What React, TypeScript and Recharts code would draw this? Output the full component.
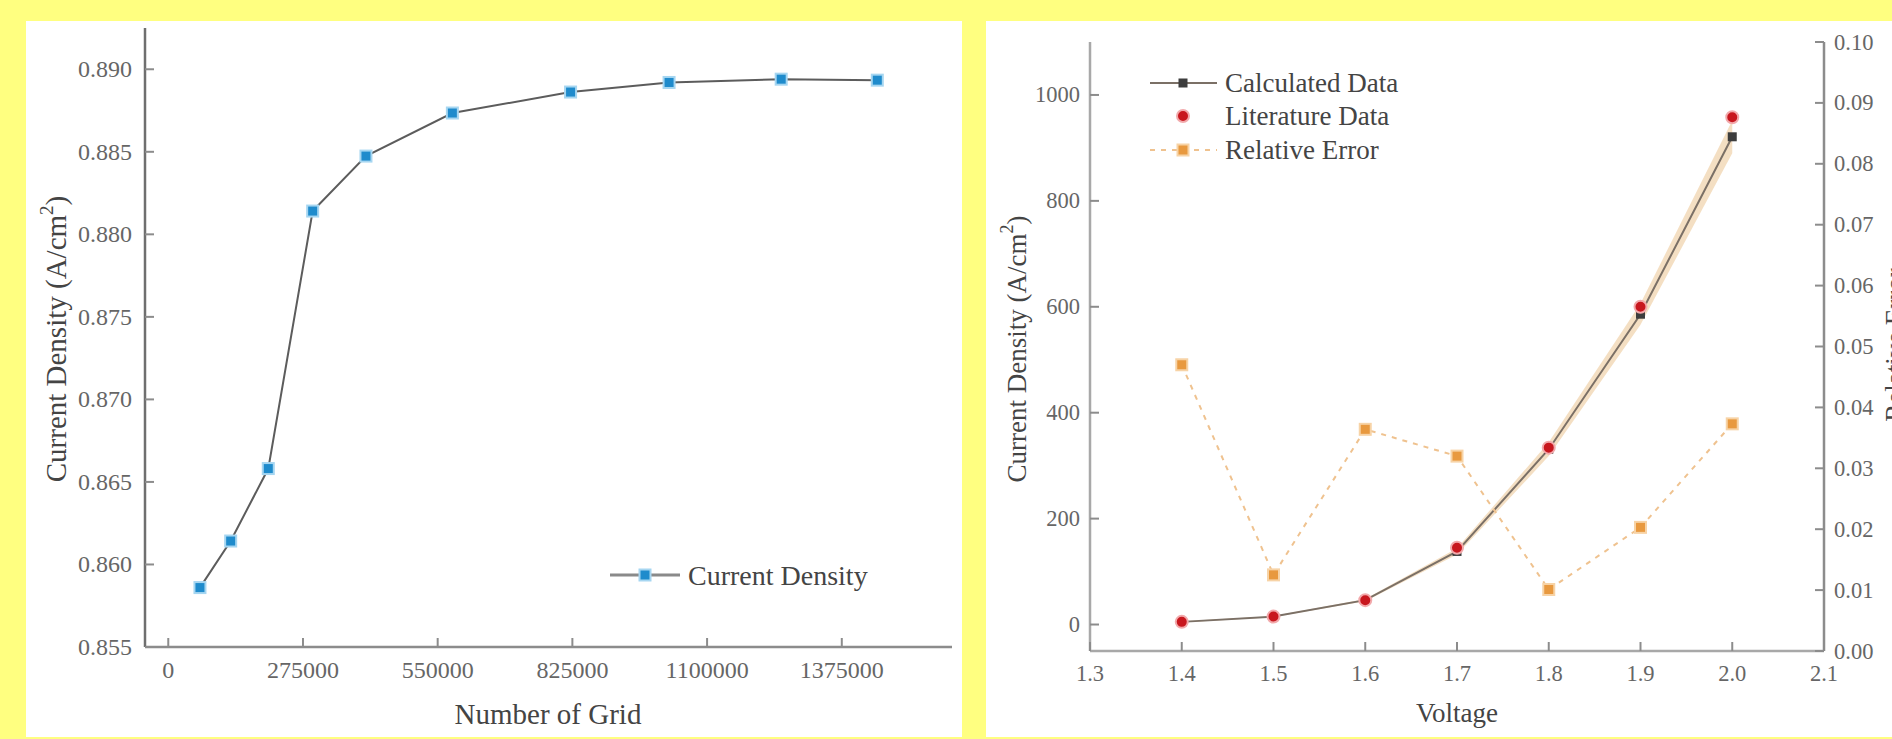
import { LineChart, Line, ComposedChart, Area, XAxis, YAxis } from "recharts";

// grid independence study (left)
const GRID_CELLS = [64700, 127400, 204200, 294800, 403600, 580000, 821300, 1022400, 1251300, 1447500];
const GRID_DENSITY = [0.8586, 0.86142, 0.86581, 0.88141, 0.88474, 0.88735, 0.88862, 0.8892, 0.8894, 0.88934];
const GRID_TICKS = [0, 275000, 550000, 825000, 1100000, 1375000];
const DENSITY_TICKS = [0.855, 0.86, 0.865, 0.87, 0.875, 0.88, 0.885, 0.89];

// validation against literature (right)
const VOLTAGE = [1.4, 1.5, 1.6, 1.7, 1.8, 1.9, 2.0];
const CALCULATED = [5, 15, 46, 138, 331, 586, 921];
const LITERATURE = [5, 15, 46, 145, 334, 600, 958];
const BAND_LOW = [4, 14, 44, 132, 318, 566, 890];
const BAND_HIGH = [6, 16, 48, 144, 344, 606, 952];
const REL_ERROR = [0.047, 0.0125, 0.0364, 0.032, 0.0101, 0.0203, 0.0373];
const VOLTAGE_TICKS = [1.3, 1.4, 1.5, 1.6, 1.7, 1.8, 1.9, 2.0, 2.1];
const CD_TICKS = [0, 200, 400, 600, 800, 1000];
const ERR_TICKS = [0, 0.01, 0.02, 0.03, 0.04, 0.05, 0.06, 0.07, 0.08, 0.09, 0.1];

const FONT = "'Liberation Serif', 'Times New Roman', serif";
const AXIS = "#8c8c8c";
const TICK_TEXT = "#666";
const TITLE_TEXT = "#444";
const TICK_LEN = 9;

const gridData = GRID_CELLS.map((g, i) => ({ grid: g, density: GRID_DENSITY[i] }));
const voltData = VOLTAGE.map((v, i) => ({
  v,
  calc: CALCULATED[i],
  lit: LITERATURE[i],
  err: REL_ERROR[i],
  band: [BAND_LOW[i], BAND_HIGH[i]],
}));

function bottomTick(fmt: (v: number) => string, fs: number, gap: number) {
  return (p: any) => (
    <g>
      <line x1={p.x} x2={p.x} y1={p.y} y2={p.y - TICK_LEN} stroke={AXIS} strokeWidth={2} />
      <text x={p.x} y={p.y + gap} textAnchor="middle" dominantBaseline="central" fontSize={fs} fontFamily={FONT} fill={TICK_TEXT}>
        {fmt(p.payload.value)}
      </text>
    </g>
  );
}

function leftTick(fmt: (v: number) => string, fs: number, gap: number) {
  return (p: any) => (
    <g>
      <line x1={p.x} x2={p.x + TICK_LEN} y1={p.y} y2={p.y} stroke={AXIS} strokeWidth={2} />
      <text x={p.x - gap} y={p.y} textAnchor="end" dominantBaseline="central" fontSize={fs} fontFamily={FONT} fill={TICK_TEXT}>
        {fmt(p.payload.value)}
      </text>
    </g>
  );
}

function rightTick(fmt: (v: number) => string, fs: number, gap: number) {
  return (p: any) => (
    <g>
      <line x1={p.x} x2={p.x - TICK_LEN} y1={p.y} y2={p.y} stroke={AXIS} strokeWidth={2} />
      <text x={p.x + gap} y={p.y} textAnchor="start" dominantBaseline="central" fontSize={fs} fontFamily={FONT} fill={TICK_TEXT}>
        {fmt(p.payload.value)}
      </text>
    </g>
  );
}

const square = (size: number, fill: string, halo?: string) => (p: any) => {
  if (p.cx == null || p.cy == null) return <g key={p.index} />;
  return (
    <rect key={p.index} x={p.cx - size / 2} y={p.cy - size / 2} width={size} height={size}
      fill={fill} stroke={halo ?? "none"} strokeWidth={halo ? 2 : 0} />
  );
};

const circle = (r: number, fill: string, halo: string) => (p: any) => {
  if (p.cx == null || p.cy == null) return <g key={p.index} />;
  return <circle key={p.index} cx={p.cx} cy={p.cy} r={r} fill={fill} stroke={halo} strokeWidth={2} />;
};

function GridChart() {
  return (
    <div style={{ position: "absolute", left: 26, top: 21, width: 936, height: 716, background: "#fff" }}>
      <LineChart width={936} height={716} data={gridData} margin={{ top: 7, right: 10, bottom: 30, left: 39 }}>
        <XAxis type="number" dataKey="grid" domain={[-47500, 1600000]} ticks={GRID_TICKS} allowDataOverflow
          height={60} tickSize={0} tickMargin={0} tickLine={false}
          axisLine={{ stroke: AXIS, strokeWidth: 2.5 }} tick={bottomTick((v) => String(v), 24, 23)} />
        <XAxis xAxisId="top" orientation="top" type="number" dataKey="grid" domain={[-47500, 1600000]} height={0}
          tick={false} tickLine={false} axisLine={{ stroke: AXIS, strokeWidth: 2.5 }} />
        <YAxis type="number" domain={[0.855, 0.8925]} ticks={DENSITY_TICKS} allowDataOverflow width={80}
          tickSize={0} tickMargin={0} tickLine={false}
          axisLine={{ stroke: "#6f6f6f", strokeWidth: 2.5 }} tick={leftTick((v) => v.toFixed(3), 24, 13)} />
        <YAxis yAxisId="right" orientation="right" type="number" domain={[0.855, 0.8925]} width={0}
          tick={false} tickLine={false} axisLine={{ stroke: "#6f6f6f", strokeWidth: 2.5 }} />
        <Line dataKey="density" type="linear" stroke="#5c5c5c" strokeWidth={2}
          dot={square(11, "#1f8bcc", "#a6d6f1")} isAnimationActive={false} />
      </LineChart>
      <svg width={936} height={716} style={{ position: "absolute", left: 0, top: 0, pointerEvents: "none" }}>
        <text x={522} y={693} textAnchor="middle" dominantBaseline="central" fontSize={29} fontFamily={FONT} fill={TITLE_TEXT}>
          Number of Grid
        </text>
        <text transform="translate(30 318) rotate(-90)" textAnchor="middle" dominantBaseline="central" fontSize={29} fontFamily={FONT} fill={TITLE_TEXT}>
          <tspan>Current Density (A/cm</tspan>
          <tspan dy={-10} fontSize={19}>2</tspan>
          <tspan dy={10}>)</tspan>
        </text>
        <line x1={584} x2={654} y1={554} y2={554} stroke="#8a8a8a" strokeWidth={3} />
        <rect x={613.5} y={548.5} width={11} height={11} fill="#1f8bcc" stroke="#a6d6f1" strokeWidth={2} />
        <text x={662} y={554} dominantBaseline="central" fontSize={28} fontFamily={FONT} fill={TITLE_TEXT}>
          Current Density
        </text>
      </svg>
    </div>
  );
}

function VoltageChart() {
  return (
    <div style={{ position: "absolute", left: 986, top: 21, width: 940, height: 716, background: "#fff" }}>
      <ComposedChart width={940} height={716} data={voltData} margin={{ top: 21, right: 32, bottom: 30, left: 34 }}>
        <XAxis type="number" dataKey="v" domain={[1.3, 2.1]} ticks={VOLTAGE_TICKS} allowDataOverflow
          height={56} tickSize={0} tickMargin={0} tickLine={false}
          axisLine={{ stroke: "#a8a8a8", strokeWidth: 2.5 }} tick={bottomTick((v) => v.toFixed(1), 22.5, 22)} />
        <XAxis xAxisId="top" orientation="top" type="number" dataKey="v" domain={[1.3, 2.1]} height={0}
          tick={false} tickLine={false} axisLine={{ stroke: "#808080", strokeWidth: 2.5 }} />
        <YAxis yAxisId="cd" type="number" domain={[-50, 1100]} ticks={CD_TICKS} allowDataOverflow width={70}
          tickSize={0} tickMargin={0} tickLine={false}
          axisLine={{ stroke: "#a8a8a8", strokeWidth: 2.5 }} tick={leftTick((v) => String(v), 22.5, 10)} />
        <YAxis yAxisId="err" orientation="right" type="number" domain={[0, 0.1]} ticks={ERR_TICKS} allowDataOverflow width={70}
          tickSize={0} tickMargin={0} tickLine={false}
          axisLine={{ stroke: "#8c8c8c", strokeWidth: 2.5 }} tick={rightTick((v) => v.toFixed(2), 22.5, 10)} />
        <Area yAxisId="cd" dataKey="band" type="linear" stroke="none" fill="#f3dcbc" fillOpacity={0.9}
          isAnimationActive={false} />
        <Line yAxisId="cd" dataKey="calc" type="linear" stroke="#7b7066" strokeWidth={2}
          dot={square(9, "#3d3d3d")} isAnimationActive={false} />
        <Line yAxisId="err" dataKey="err" type="linear" stroke="#efc28f" strokeWidth={2} strokeDasharray="5 6"
          dot={square(11, "#e8993f", "#f7d3a6")} isAnimationActive={false} />
        <Line yAxisId="cd" dataKey="lit" type="linear" stroke="none" strokeWidth={0}
          dot={circle(6, "#c8171e", "#f2a9ab")} isAnimationActive={false} />
      </ComposedChart>
      <svg width={940} height={716} style={{ position: "absolute", left: 0, top: 0, pointerEvents: "none" }}>
        <text x={471} y={692} textAnchor="middle" dominantBaseline="central" fontSize={27} fontFamily={FONT} fill={TITLE_TEXT}>
          Voltage
        </text>
        <text transform="translate(31 328) rotate(-90)" textAnchor="middle" dominantBaseline="central" fontSize={27} fontFamily={FONT} fill={TITLE_TEXT}>
          <tspan>Current Density (A/cm</tspan>
          <tspan dy={-10} fontSize={18}>2</tspan>
          <tspan dy={10}>)</tspan>
        </text>
        <text transform="translate(909 324) rotate(-90)" textAnchor="middle" dominantBaseline="central" fontSize={27} fontFamily={FONT} fill={TITLE_TEXT}>
          Relative Error
        </text>
        <line x1={164} x2={231} y1={62} y2={62} stroke="#7b7066" strokeWidth={2} />
        <rect x={192.5} y={57.5} width={9} height={9} fill="#3d3d3d" />
        <text x={239} y={62} dominantBaseline="central" fontSize={27} fontFamily={FONT} fill={TITLE_TEXT}>Calculated Data</text>
        <circle cx={197} cy={95} r={6} fill="#c8171e" stroke="#f2a9ab" strokeWidth={2} />
        <text x={239} y={95} dominantBaseline="central" fontSize={27} fontFamily={FONT} fill={TITLE_TEXT}>Literature Data</text>
        <line x1={164} x2={231} y1={129} y2={129} stroke="#efc28f" strokeWidth={2} strokeDasharray="5 6" />
        <rect x={191.5} y={123.5} width={11} height={11} fill="#e8993f" stroke="#f7d3a6" strokeWidth={2} />
        <text x={239} y={129} dominantBaseline="central" fontSize={27} fontFamily={FONT} fill={TITLE_TEXT}>Relative Error</text>
      </svg>
    </div>
  );
}

export default function App() {
  return (
    <div style={{ position: "fixed", left: 0, top: 0, width: 1892, height: 739, background: "#ffff80", overflow: "hidden", fontFamily: FONT }}>
      <GridChart />
      <VoltageChart />
    </div>
  );
}
